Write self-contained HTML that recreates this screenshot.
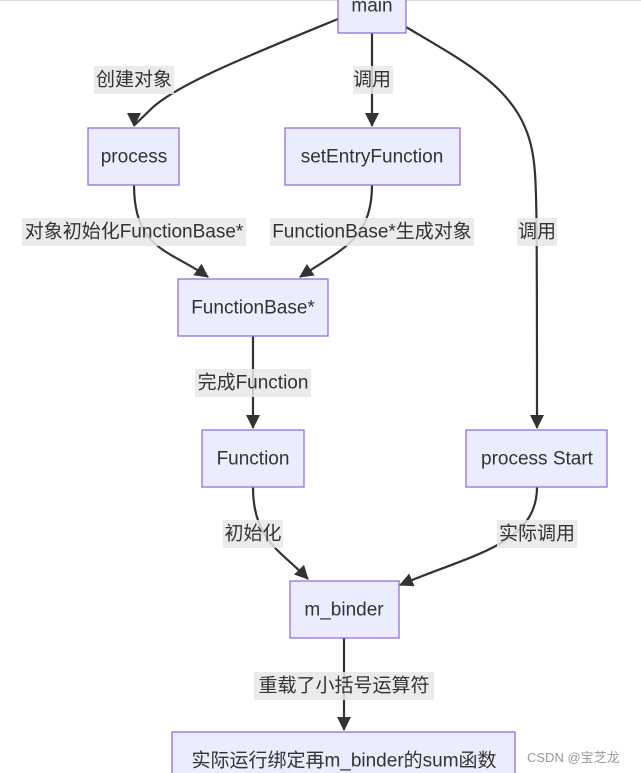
<!DOCTYPE html>
<html><head><meta charset="utf-8"><style>
html,body{margin:0;padding:0;background:#fff;}
svg{display:block;font-family:"Liberation Sans","Noto Sans CJK SC",sans-serif;}
.n{fill:#ECECFF;stroke:#9370DB;stroke-width:1.3;}
.e{fill:none;stroke:#333;stroke-width:2.2;}
.t{font-size:19px;fill:#333;text-anchor:middle;dominant-baseline:central;}
.lb{fill:rgba(232,232,232,0.85);}
</style></head><body>
<svg width="641" height="773" viewBox="0 0 641 773" xmlns="http://www.w3.org/2000/svg">
<defs><marker id="a" markerWidth="14" markerHeight="14" refX="13" refY="7" orient="auto" markerUnits="userSpaceOnUse"><path d="M0,0L14,7L0,14z" fill="#333"/></marker></defs>
<line x1="0" y1="0.5" x2="641" y2="0.5" stroke="#ddd"/>
<path class="e" d="M338,19 C250,55 175,85 150,110 C138,122 134,125 134,126" marker-end="url(#a)"/>
<path class="e" d="M372,33 L372,126" marker-end="url(#a)"/>
<path class="e" d="M406,27 C470,65 520,90 532,150 C537,175 537,200 537,428" marker-end="url(#a)"/>
<path class="e" d="M134,185 C134,250 170,250 208,277" marker-end="url(#a)"/>
<path class="e" d="M372,185 C372,240 340,250 300,277" marker-end="url(#a)"/>
<path class="e" d="M253,336 L253,428" marker-end="url(#a)"/>
<path class="e" d="M253,487 C253,540 280,550 308,579" marker-end="url(#a)"/>
<path class="e" d="M537,487 C537,545 470,555 400,585" marker-end="url(#a)"/>
<path class="e" d="M344,638 L344,730" marker-end="url(#a)"/>
<rect class="lb" x="94" y="66" width="80" height="28"/><text class="t" x="134" y="80">创建对象</text>
<rect class="lb" x="353" y="66" width="40" height="28"/><text class="t" x="372" y="80">调用</text>
<rect class="lb" x="517" y="218" width="40" height="28"/><text class="t" x="537" y="232">调用</text>
<rect class="lb" x="22" y="218" width="224" height="28"/><text class="t" x="134" y="232">对象初始化FunctionBase*</text>
<rect class="lb" x="270" y="218" width="204" height="28"/><text class="t" x="372" y="232">FunctionBase*生成对象</text>
<rect class="lb" x="195" y="369" width="116" height="28"/><text class="t" x="253" y="383">完成Function</text>
<rect class="lb" x="223" y="520" width="60" height="28"/><text class="t" x="253" y="534">初始化</text>
<rect class="lb" x="497" y="520" width="80" height="28"/><text class="t" x="537" y="534">实际调用</text>
<rect class="lb" x="254" y="672" width="180" height="28"/><text class="t" x="344" y="686">重载了小括号运算符</text>
<rect class="n" x="338" y="-10" width="68" height="43"/><text class="t" x="372" y="6">main</text>
<rect class="n" x="88" y="128" width="91" height="57"/><text class="t" x="134" y="157">process</text>
<rect class="n" x="285" y="128" width="175" height="57"/><text class="t" x="372" y="157">setEntryFunction</text>
<rect class="n" x="178" y="279" width="150" height="57"/><text class="t" x="253" y="308">FunctionBase*</text>
<rect class="n" x="202" y="430" width="102" height="57"/><text class="t" x="253" y="459">Function</text>
<rect class="n" x="466" y="430" width="141" height="57"/><text class="t" x="537" y="459">process Start</text>
<rect class="n" x="290" y="581" width="109" height="57"/><text class="t" x="344" y="610">m_binder</text>
<rect class="n" x="172" y="732" width="343" height="57"/><text class="t" x="344" y="761">实际运行绑定再m_binder的sum函数</text>
<text x="527" y="762" font-size="13" fill="#999">CSDN @宝芝龙</text>
</svg>
</body></html>
